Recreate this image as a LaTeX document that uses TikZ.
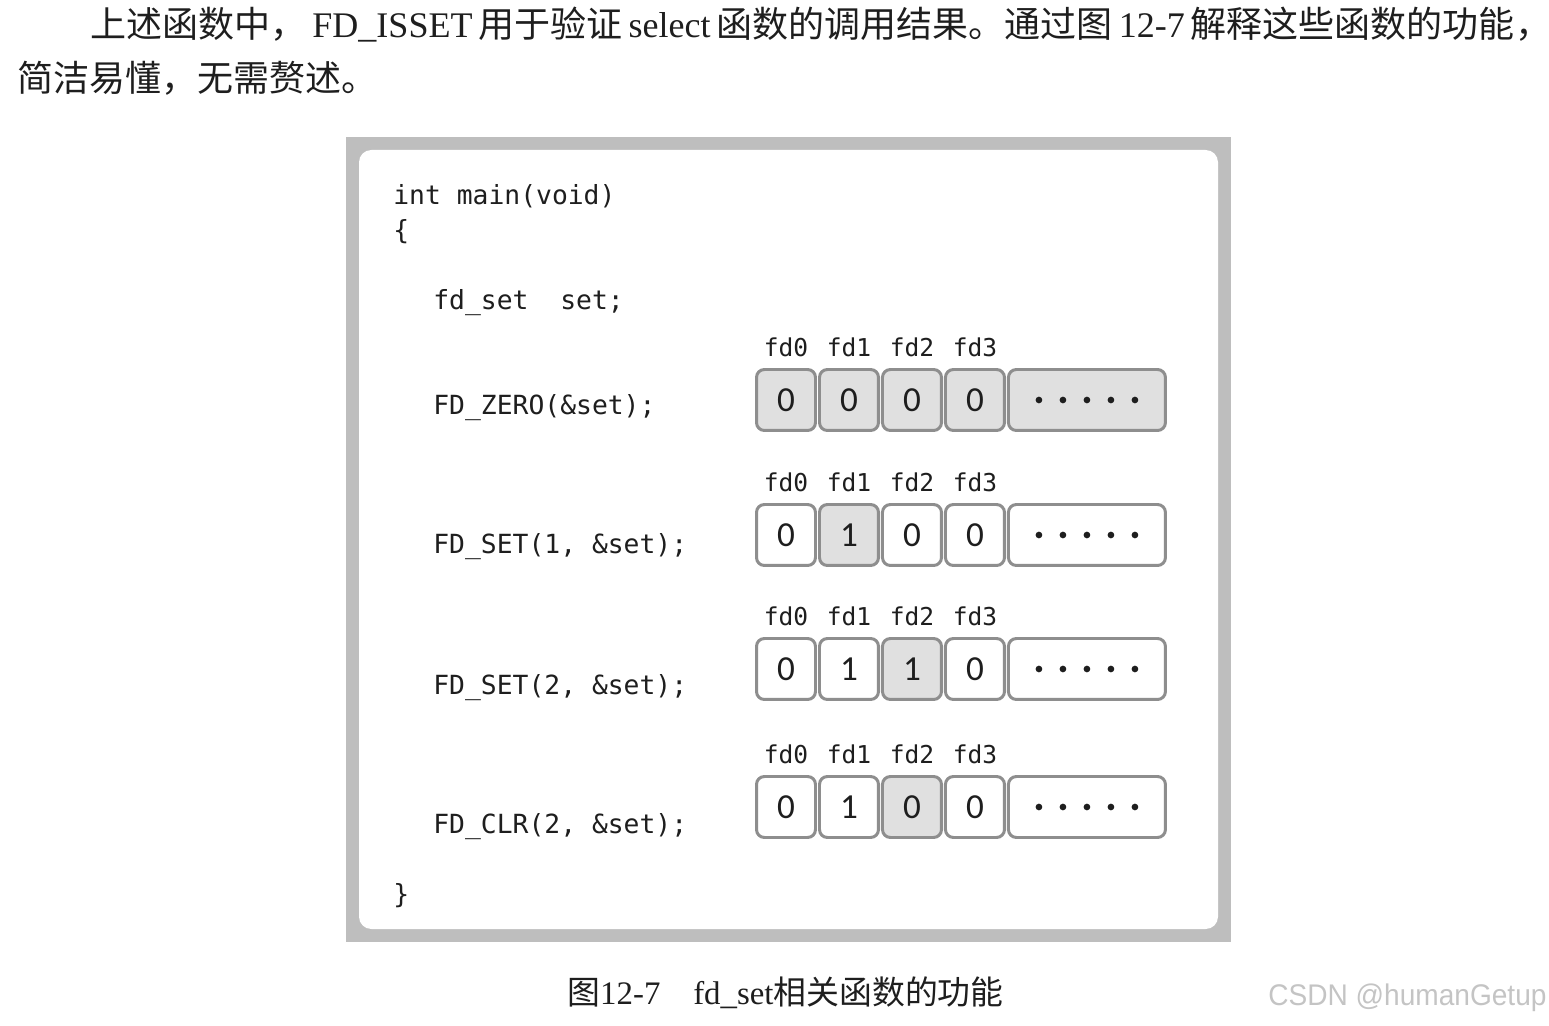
\documentclass[tikz,border=0pt]{standalone}
\usepackage{fontspec}
\usepackage{tikz}
\usetikzlibrary{positioning,calc}
\setmainfont{Liberation Serif}
\setmonofont{DejaVu Sans Mono}
\newfontfamily\cjk{Noto Sans CJK SC}
\newfontfamily\bitfont{Carlito}
\newfontfamily\markfont{Liberation Sans}
\definecolor{ink}{HTML}{1E1E1E}
\definecolor{framegray}{HTML}{BEBEBE}
\definecolor{edgegray}{HTML}{8E8E8E}
\definecolor{hotgray}{HTML}{E0E0E0}
\definecolor{markgray}{HTML}{C4C4C4}

\begin{document}
\begin{tikzpicture}[x=0.02cm,y=-0.02cm,
  codeline/.style={anchor=base west,inner sep=0pt,text=ink,font=\ttfamily\fontsize{15}{18}\selectfont},
  bit/.style={draw=edgegray,line width=1.7pt,rounded corners=4.5pt,fill=white,
    minimum width=1.18cm,minimum height=1.22cm,inner sep=0pt,outer sep=0pt,
    text=ink,font=\bitfont\fontsize{20}{20}\selectfont},
  hot/.style={fill=hotgray},
  morebits/.style={bit,minimum width=3.14cm},
  fdlab/.style={inner sep=0pt,text=ink,font=\ttfamily\fontsize{14}{16}\selectfont},
  prose/.style={anchor=west,inner sep=0pt,text=ink}]
  \useasboundingbox (0,0) rectangle (1549,1026);
  % text above the figure
  \node[prose] (para1) at (90,25) {\fontsize{20.5}{24}\selectfont\makebox[28.9cm][s]{{\cjk 上述函数中，} FD\_ISSET {\cjk 用于验证} select {\cjk 函数的调用结果。通过图} 12-7 {\cjk 解释这些函数的功能，}}};
  \node[prose] (para2) at (17,78) {\cjk\fontsize{20.5}{24}\selectfont 简洁易懂，无需赘述。};
  % frame
  \fill[framegray] (346,137) rectangle (1231,942);
  \fill[white,rounded corners=7pt] (359,150) rectangle (1218,929);
  % code
  \node[codeline] (hdr) at (393,205) {int main(void)};
  \node[codeline] (lbr) at (393,240) {\{};
  \node[codeline] (decl) at (433,310) {fd\_set\ \ set;};
  \node[codeline] (czr) at (433,415) {FD\_ZERO(\&set);};
  \node[codeline] (csa) at (433,554) {FD\_SET(1, \&set);};
  \node[codeline] (csb) at (433,695) {FD\_SET(2, \&set);};
  \node[codeline] (ccl) at (433,834) {FD\_CLR(2, \&set);};
  \node[codeline] (rbr) at (393,904) {\}};
  % FD_ZERO
  \node[bit,hot] (zr0) at (786,400) {0};
  \node[bit,hot,right=0.08cm of zr0] (zr1) {0};
  \node[bit,hot,right=0.08cm of zr1] (zr2) {0};
  \node[bit,hot,right=0.08cm of zr2] (zr3) {0};
  \node[morebits,hot,right=0.08cm of zr3] (zr4) {};
  % FD_SET(1)
  \node[bit] (sa0) at (786,535) {0};
  \node[bit,hot,right=0.08cm of sa0] (sa1) {1};
  \node[bit,right=0.08cm of sa1] (sa2) {0};
  \node[bit,right=0.08cm of sa2] (sa3) {0};
  \node[morebits,right=0.08cm of sa3] (sa4) {};
  % FD_SET(2)
  \node[bit] (sb0) at (786,669) {0};
  \node[bit,right=0.08cm of sb0] (sb1) {1};
  \node[bit,hot,right=0.08cm of sb1] (sb2) {1};
  \node[bit,right=0.08cm of sb2] (sb3) {0};
  \node[morebits,right=0.08cm of sb3] (sb4) {};
  % FD_CLR(2)
  \node[bit] (cl0) at (786,807) {0};
  \node[bit,right=0.08cm of cl0] (cl1) {1};
  \node[bit,hot,right=0.08cm of cl1] (cl2) {0};
  \node[bit,right=0.08cm of cl2] (cl3) {0};
  \node[morebits,right=0.08cm of cl3] (cl4) {};
  \foreach \rw in {zr,sa,sb,cl} {
    \foreach \i in {0,...,3}
      \node[fdlab,above=7pt of \rw\i] (\rw l\i) {fd\i};
    \foreach \k in {-2,...,2}
      \fill[ink] ($(\rw4)+(\k*24,0)$) circle[radius=1.9pt];
  }
  % caption and mark
  \node[prose] (cap) at (567,993) {\fontsize{18.7}{22}\selectfont{\cjk 图}12-7\hspace{1em}fd\_set{\cjk 相关函数的功能}};
  \node[prose,text=markgray] (mark) at (1268,998) {\markfont\fontsize{17}{20}\selectfont\scalebox{0.94}[1]{CSDN @humanGetup}};
\end{tikzpicture}
\end{document}
